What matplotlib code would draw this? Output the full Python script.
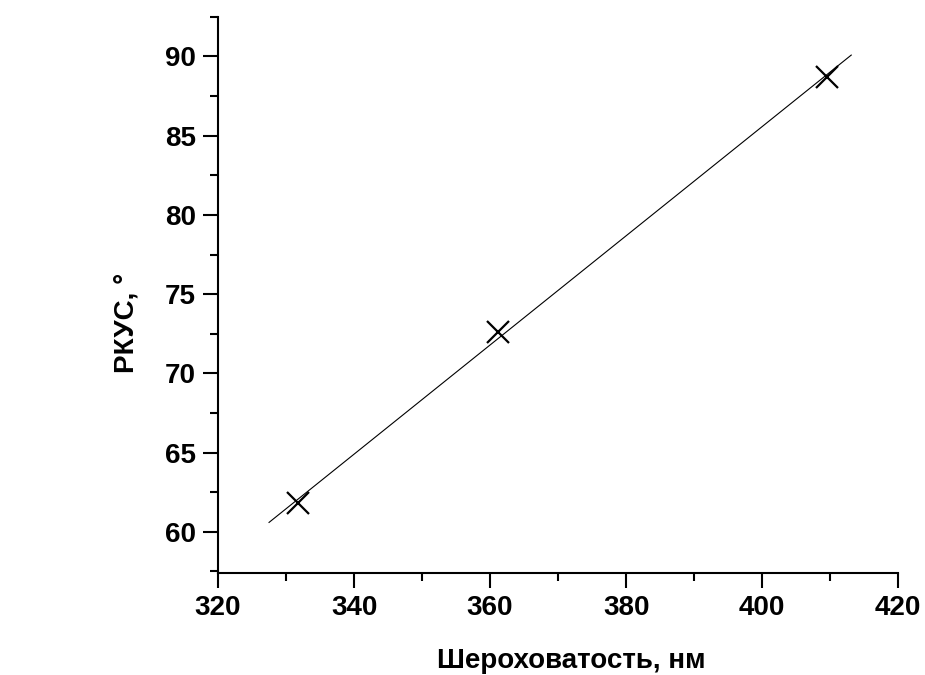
import numpy as np
import matplotlib.pyplot as plt
from matplotlib.ticker import MultipleLocator

# Данные
roughness = [331.7, 361.2, 409.5]   # Шероховатость, нм
angle = [61.8, 72.6, 88.7]          # РКУС, °
fit_range = [327.5, 413.1]          # диапазон линии аппроксимации

plt.rcParams['font.family'] = ['Liberation Sans', 'DejaVu Sans']
plt.rcParams['font.weight'] = 'bold'

fig = plt.figure(figsize=(9.25, 6.75), dpi=100)
ax = fig.add_axes([0.2357, 0.151, 0.7353, 0.824])

# Линейная аппроксимация
k, b = np.polyfit(roughness, angle, 1)
xf = np.array(fit_range)
ax.plot(xf, k * xf + b, color='black', lw=0.8)
ax.plot(roughness, angle, 'x', color='black', ms=16, mew=1.6)

ax.set_xlim(320, 420)
ax.set_ylim(57.4, 92.5)
ax.xaxis.set_major_locator(MultipleLocator(20))
ax.xaxis.set_minor_locator(MultipleLocator(10))
ax.yaxis.set_major_locator(MultipleLocator(5))
ax.yaxis.set_minor_locator(MultipleLocator(2.5))

for s in ['top', 'right']:
    ax.spines[s].set_visible(False)
for s in ['left', 'bottom']:
    ax.spines[s].set_linewidth(1.5)

ax.tick_params(which='major', direction='out', length=11, width=1.5, labelsize=20, pad=5)
ax.tick_params(which='minor', direction='out', length=6, width=1.5)

ax.set_xlabel('Шероховатость, нм', fontsize=20, fontweight='bold', labelpad=20)
ax.set_ylabel('РКУС, °', fontsize=20, fontweight='bold', labelpad=16)
ax.xaxis.set_label_coords(0.52, -0.135)
ax.yaxis.set_label_coords(-0.115, 0.45)

fig.savefig('out.png', dpi=100)
